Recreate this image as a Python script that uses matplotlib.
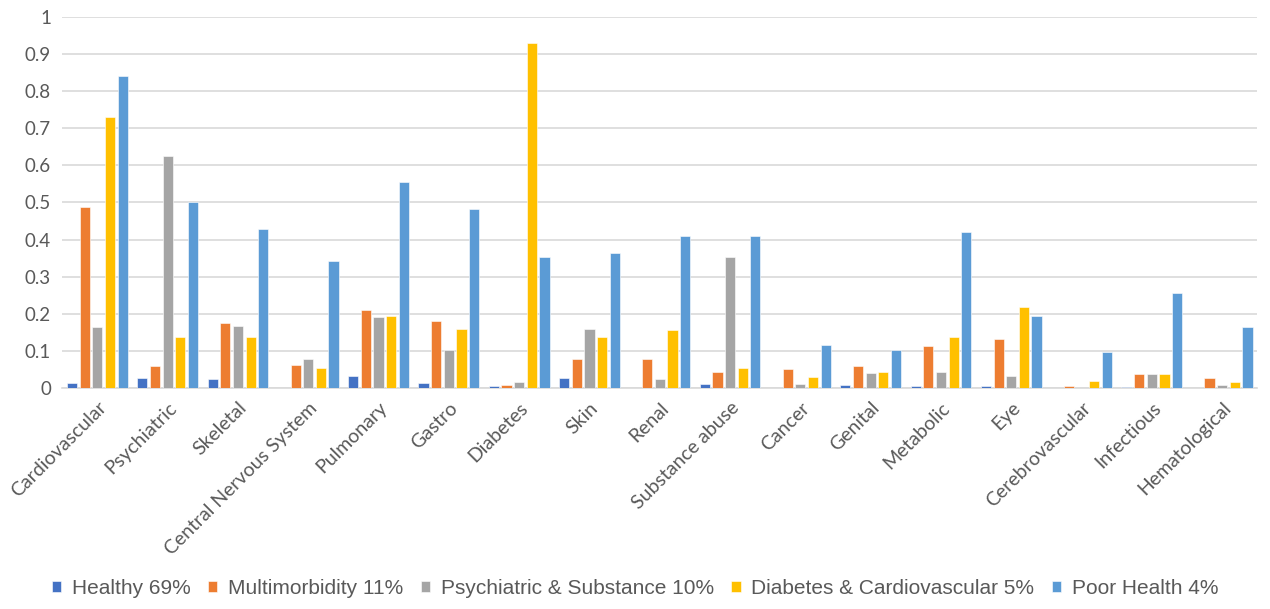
import numpy as np
import matplotlib
matplotlib.use('Agg')
import matplotlib.pyplot as plt

plt.rcParams['font.family'] = ['Lato', 'DejaVu Sans']

categories = ['Cardiovascular', 'Psychiatric', 'Skeletal', 'Central Nervous System',
              'Pulmonary', 'Gastro', 'Diabetes', 'Skin', 'Renal', 'Substance abuse',
              'Cancer', 'Genital', 'Metabolic', 'Eye', 'Cerebrovascular',
              'Infectious', 'Hematological']

healthy = [0.012, 0.027, 0.024, 0.0, 0.033, 0.013, 0.004, 0.027, 0.0, 0.011,
           0.0, 0.009, 0.004, 0.006, 0.0, 0.003, 0.0]
multimorbidity = [0.488, 0.059, 0.175, 0.062, 0.210, 0.181, 0.008, 0.079, 0.079, 0.042,
                  0.051, 0.060, 0.114, 0.131, 0.006, 0.037, 0.027]
psych_substance = [0.164, 0.626, 0.168, 0.079, 0.190, 0.103, 0.017, 0.160, 0.024, 0.354,
                   0.010, 0.039, 0.044, 0.032, 0.0, 0.037, 0.009]
diabetes_cardio = [0.730, 0.137, 0.136, 0.054, 0.195, 0.158, 0.931, 0.136, 0.155, 0.054,
                   0.029, 0.044, 0.136, 0.218, 0.019, 0.037, 0.017]
poor_health = [0.841, 0.500, 0.429, 0.341, 0.556, 0.483, 0.354, 0.364, 0.410, 0.410,
               0.116, 0.103, 0.421, 0.195, 0.096, 0.255, 0.163]

series = [
    ('Healthy 69%', healthy, '#4472C4'),
    ('Multimorbidity 11%', multimorbidity, '#ED7D31'),
    ('Psychiatric & Substance 10%', psych_substance, '#A5A5A5'),
    ('Diabetes & Cardiovascular 5%', diabetes_cardio, '#FFC000'),
    ('Poor Health 4%', poor_health, '#5B9BD5'),
]

fig = plt.figure(figsize=(12.7, 6.09), dpi=100)
ax = fig.add_axes([0.049, 0.363, 0.941, 0.609])

# five bars per category, grouped around the tick
x = np.arange(len(categories))
step = 0.18
width = 0.145
for i, (name, vals, color) in enumerate(series):
    ax.bar(x + (i - 2) * step, vals, width, color=color, label=name,
           edgecolor='white', linewidth=0.4, zorder=3)

ax.set_xlim(-0.5, len(categories) - 0.5)
ax.set_ylim(0, 1)
ax.set_yticks(np.arange(0, 1.01, 0.1))
ax.set_yticklabels(['0', '0.1', '0.2', '0.3', '0.4', '0.5', '0.6', '0.7', '0.8', '0.9', '1'])
ax.yaxis.grid(True, color='#D9D9D9', linewidth=1.2, zorder=0)
ax.set_axisbelow(True)

ax.set_xticks(x)
ax.set_xticklabels(categories, rotation=45, ha='right', rotation_mode='anchor')
ax.tick_params(axis='both', length=0, colors='#595959')
ax.tick_params(axis='y', labelsize=13.5, pad=8)
ax.tick_params(axis='x', labelsize=14, pad=8)

for side in ['top', 'right', 'left']:
    ax.spines[side].set_visible(False)
ax.spines['bottom'].set_color('#D9D9D9')
ax.spines['bottom'].set_linewidth(1.2)

fig.legend(loc='center', bbox_to_anchor=(0.5, 0.034), ncol=5, frameon=False,
           prop={'family': 'Liberation Sans', 'size': 15},
           labelcolor='#595959', handlelength=0.45, handleheight=0.45,
           handletextpad=0.5, columnspacing=0.85)

fig.savefig('out.png', dpi=100)
